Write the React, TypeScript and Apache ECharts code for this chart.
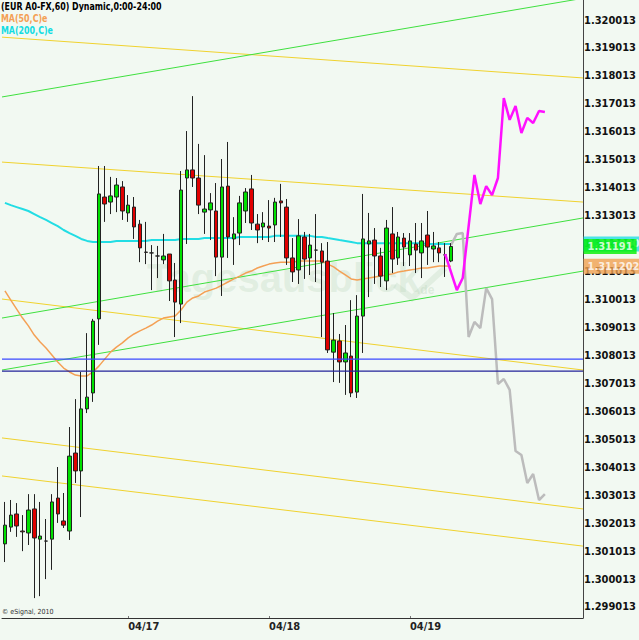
import React, { useEffect, useRef } from "react";
import * as echarts from "echarts";

const FONT = "'Liberation Sans Narrow', 'Arial Narrow', 'DejaVu Sans Condensed', 'Liberation Sans', Arial, sans-serif";

// ---- categories (hourly slots, first slot 04/16 03:00) ----
const dayNames = ["04/16", "04/17", "04/18", "04/19", "04/20"];
const firstHour = 3;
const slotCount = 99;
const categories = Array.from({ length: slotCount }, (_, i) => {
  const h = firstHour + i;
  return `${dayNames[Math.floor(h / 24)]} ${String(h % 24).padStart(2, "0")}:00`;
});
const dayLabels = ["04/17", "04/18", "04/19"];

// ---- y tick labels ----
const priceTicks = [
  1.299013, 1.300013, 1.301013, 1.302013, 1.303013, 1.304013, 1.305013, 1.306013,
  1.307013, 1.308013, 1.309013, 1.310013, 1.311013, 1.312013, 1.313013, 1.314013,
  1.315013, 1.316013, 1.317013, 1.318013, 1.319013, 1.320013,
];
const priceMin = 1.298618;
const priceMax = 1.320729;

// ---- candles: [open, close, low, high] ----
const candles = [
  [1.30127, 1.30194, 1.30062, 1.30277],
  [1.30187, 1.3023, 1.3017, 1.30284],
  [1.30234, 1.30191, 1.30152, 1.30273],
  [1.30173, 1.3017, 1.30101, 1.3023],
  [1.30166, 1.30248, 1.30123, 1.30305],
  [1.30252, 1.30148, 1.29933, 1.30305],
  [1.30144, 1.30155, 1.2994, 1.30277],
  [1.30137, 1.30137, 1.30001, 1.30216],
  [1.30144, 1.30277, 1.30034, 1.30305],
  [1.30291, 1.30234, 1.30202, 1.30402],
  [1.30209, 1.30194, 1.30184, 1.30309],
  [1.30173, 1.30441, 1.30141, 1.30545],
  [1.30452, 1.30388, 1.30345, 1.30645],
  [1.30388, 1.3061, 1.30223, 1.30742],
  [1.3061, 1.30652, 1.30595, 1.30881],
  [1.30667, 1.30924, 1.30635, 1.30932],
  [1.30932, 1.31379, 1.30839, 1.31479],
  [1.31368, 1.31343, 1.31279, 1.31479],
  [1.3135, 1.31372, 1.31307, 1.3144],
  [1.31368, 1.31411, 1.31314, 1.31436],
  [1.31404, 1.31318, 1.31286, 1.31425],
  [1.31311, 1.31339, 1.31279, 1.31375],
  [1.31332, 1.31261, 1.31218, 1.31368],
  [1.31271, 1.31186, 1.31135, 1.31286],
  [1.31171, 1.3117, 1.31128, 1.31279],
  [1.31168, 1.31168, 1.31035, 1.31196],
  [1.31157, 1.31157, 1.31078, 1.31193],
  [1.31143, 1.31157, 1.31128, 1.31236],
  [1.31164, 1.31068, 1.30996, 1.31164],
  [1.31071, 1.30992, 1.30867, 1.31132],
  [1.30985, 1.31393, 1.30917, 1.31461],
  [1.31436, 1.31465, 1.312, 1.31604],
  [1.31465, 1.31436, 1.31404, 1.31729],
  [1.31436, 1.31339, 1.31307, 1.31558],
  [1.31314, 1.31325, 1.31236, 1.31518],
  [1.31322, 1.31347, 1.31214, 1.31382],
  [1.31318, 1.31153, 1.31085, 1.31418],
  [1.31153, 1.31404, 1.31014, 1.31504],
  [1.31407, 1.31225, 1.3115, 1.31565],
  [1.31218, 1.31236, 1.31125, 1.31296],
  [1.31239, 1.31347, 1.31196, 1.31372],
  [1.31318, 1.31386, 1.31275, 1.314],
  [1.31397, 1.31275, 1.3125, 1.31447],
  [1.31271, 1.3125, 1.31203, 1.31307],
  [1.31261, 1.31275, 1.31214, 1.31314],
  [1.31264, 1.31257, 1.31207, 1.31357],
  [1.31268, 1.3135, 1.31207, 1.31365],
  [1.31354, 1.31347, 1.31225, 1.31415],
  [1.31332, 1.3115, 1.31125, 1.31361],
  [1.3115, 1.311, 1.31064, 1.31221],
  [1.31107, 1.31229, 1.31057, 1.31289],
  [1.31225, 1.31146, 1.31075, 1.31243],
  [1.3115, 1.31196, 1.31089, 1.31236],
  [1.31178, 1.31178, 1.31064, 1.31307],
  [1.31175, 1.31135, 1.30867, 1.31203],
  [1.31139, 1.30821, 1.3081, 1.31207],
  [1.30813, 1.30856, 1.30706, 1.30953],
  [1.30853, 1.30778, 1.30703, 1.30878],
  [1.30778, 1.3081, 1.3066, 1.3091],
  [1.30799, 1.30667, 1.30652, 1.30999],
  [1.3067, 1.30942, 1.30649, 1.31017],
  [1.30942, 1.31218, 1.3081, 1.31379],
  [1.312, 1.31211, 1.3101, 1.31311],
  [1.31214, 1.31157, 1.31057, 1.31257],
  [1.31157, 1.31085, 1.31046, 1.31186],
  [1.31068, 1.31257, 1.31035, 1.31286],
  [1.31236, 1.31146, 1.31096, 1.31332],
  [1.3115, 1.31225, 1.31125, 1.31243],
  [1.31221, 1.31189, 1.31121, 1.31239],
  [1.31161, 1.31211, 1.31121, 1.31239],
  [1.312, 1.31178, 1.31096, 1.31275],
  [1.31168, 1.31211, 1.31078, 1.31275],
  [1.31232, 1.31189, 1.31125, 1.31318],
  [1.31182, 1.31193, 1.31135, 1.31243],
  [1.31186, 1.31168, 1.31135, 1.31207],
  [1.31161, 1.31161, 1.31082, 1.31203],
  [1.31139, 1.31191, 1.31135, 1.31203],
];

// ---- moving averages ----
const ma50 = [
  1.31032, 1.30999, 1.30967, 1.30935, 1.30907, 1.30874, 1.30849, 1.30828, 1.30803, 1.30778,
  1.30756, 1.30742, 1.30731, 1.30728, 1.30728, 1.30742, 1.30763, 1.30788, 1.30813, 1.30831,
  1.30846, 1.30864, 1.30878, 1.30889, 1.30899, 1.3091, 1.30924, 1.30935, 1.30939, 1.30942,
  1.30964, 1.30992, 1.31007, 1.31014, 1.31028, 1.31035, 1.31042, 1.31053, 1.31064, 1.31075,
  1.31085, 1.31096, 1.31103, 1.31114, 1.31121, 1.31128, 1.31132, 1.31135, 1.31135, 1.31135,
  1.31139, 1.31139, 1.31139, 1.31139, 1.31139, 1.31128, 1.31118, 1.31103, 1.31089, 1.31075,
  1.31071, 1.31075, 1.31078, 1.31082, 1.31085, 1.31089, 1.31093, 1.311, 1.31103, 1.31107,
  1.3111, 1.31114, 1.31114, 1.31118, 1.31121, 1.31121, 1.311202,
];
const ma200 = [
  1.31347, 1.31339, 1.31332, 1.31325, 1.31318, 1.31307, 1.31296, 1.31286, 1.31275, 1.31264,
  1.3125, 1.31239, 1.31229, 1.31218, 1.31211, 1.31207, 1.31207, 1.31207, 1.31207, 1.31211,
  1.31211, 1.31211, 1.31211, 1.31211, 1.31211, 1.31214, 1.31214, 1.31214, 1.31214, 1.31214,
  1.31218, 1.31218, 1.31218, 1.31218, 1.31221, 1.31221, 1.31221, 1.31221, 1.31221, 1.31221,
  1.31225, 1.31225, 1.31225, 1.31225, 1.31225, 1.31225, 1.31229, 1.31229, 1.31229, 1.31229,
  1.31229, 1.31229, 1.31229, 1.31225, 1.31225, 1.31221, 1.31218, 1.31214, 1.31211, 1.31207,
  1.31203, 1.31203, 1.31203, 1.31203, 1.31203, 1.31203, 1.31203, 1.31203, 1.31203, 1.31203,
  1.31203, 1.31203, 1.312, 1.312, 1.312, 1.312, 1.312,
];

// ---- projections: [slot index, price] ----
const magentaPath = [
  [75, 1.31164], [77, 1.31035], [78, 1.31078], [80, 1.31447], [81, 1.31343], [82, 1.31407],
  [83, 1.31375], [84, 1.31436], [85, 1.31722], [86, 1.31644], [87, 1.31694], [88, 1.31597],
  [89, 1.31651], [90, 1.31633], [91, 1.31676], [92, 1.31672],
];
const grayPath = [
  [76, 1.31196], [77, 1.31236], [78, 1.31239], [79, 1.30867], [80, 1.30921], [81, 1.30899],
  [82, 1.31042], [83, 1.31003], [84, 1.30699], [85, 1.30717], [86, 1.30678], [87, 1.30459],
  [88, 1.30445], [89, 1.30345], [90, 1.30377], [91, 1.30284], [92, 1.30305],
];

// ---- trend lines: [price at left edge, price at right edge] ----
const lineEdges = [-0.5, 98.5];
const greenLines = [
  [1.31726, 1.32079],
  [1.30935, 1.31293],
  [1.30749, 1.31103],
];
const yellowLines = [
  [1.3194, 1.31794],
  [1.31493, 1.3135],
  [1.31003, 1.30749],
  [1.30506, 1.30252],
  [1.3037, 1.30119],
];
const levelLines = [1.30788, 1.30745];
const levelColors = ["#3a48ff", "#23239a"];

const lastClose = candles[candles.length - 1][1];
const lastMa50 = ma50[ma50.length - 1];
const lastMa200 = ma200[ma200.length - 1];

function trendSeries(pairs: number[][], color: string | string[], width = 1, z = 1) {
  return pairs.map((p, i) => ({
    type: "line",
    xAxisIndex: 1,
    yAxisIndex: 0,
    data: [
      [lineEdges[0], p[0]],
      [lineEdges[1], p[1]],
    ],
    symbol: "none",
    silent: true,
    lineStyle: { color: Array.isArray(color) ? color[i] : color, width },
    z,
  }));
}

function valueBox(value: number, bg: string, digits: number, z: number) {
  return {
    type: "scatter",
    xAxisIndex: 1,
    yAxisIndex: 0,
    data: [[lineEdges[1], value]],
    symbol: "rect",
    symbolSize: 1,
    clip: false,
    silent: true,
    itemStyle: { color: "rgba(0,0,0,0)" },
    z,
    label: {
      show: true,
      position: "right",
      distance: 0,
      formatter: () => value.toFixed(digits),
      backgroundColor: bg,
      color: "#ffffff",
      fontFamily: FONT,
      fontWeight: "bold",
      fontSize: 11,
      lineHeight: 11,
      padding: [2, 4, 2, 4],
    },
  };
}

export default function App() {
  const ref = useRef<HTMLDivElement>(null);

  useEffect(() => {
    if (!ref.current) return;
    const chart = echarts.init(ref.current, undefined, { renderer: "svg" });
    const isDayStart = (index: number) => {
      const c = categories[index];
      return c.endsWith(" 00:00") && dayLabels.includes(c.slice(0, 5));
    };

    const option: any = {
      animation: false,
      backgroundColor: "#f2f9f2",
      grid: { left: 2, right: 42, top: 0, bottom: 22, containLabel: false },
      xAxis: [
        {
          type: "category",
          data: categories,
          boundaryGap: true,
          axisLine: { show: true, onZero: false, lineStyle: { color: "#333", width: 1 } },
          axisTick: { show: true, alignWithLabel: true, interval: (i: number) => isDayStart(i), inside: true, length: 2, lineStyle: { color: "#777" } },
          axisLabel: {
            interval: (i: number) => isDayStart(i),
            formatter: (v: string) => v.slice(0, 5),
            align: "left",
            margin: 3,
            fontFamily: FONT,
            fontWeight: "bold",
            fontSize: 11,
            color: "#222",
          },
          splitLine: { show: false },
        },
        { type: "value", min: lineEdges[0], max: lineEdges[1], show: false, axisLine: { onZero: false } },
      ],
      yAxis: {
        type: "value",
        position: "right",
        min: priceMin,
        max: priceMax,
        splitLine: { show: false },
        axisLine: { show: true, onZero: false, lineStyle: { color: "#444", width: 1 } },
        axisTick: { show: false },
        axisLabel: {
          customValues: priceTicks,
          formatter: (v: number) => v.toFixed(6),
          margin: 1,
          fontFamily: FONT,
          fontWeight: "bold",
          fontSize: 11,
          color: "#111",
        },
      },
      graphic: [
        { type: "text", x: 147, y: 278, z: 0, silent: true, style: { text: "Tagesausblick", fill: "rgba(190,215,190,0.32)", font: "bold 40px 'Liberation Sans', Arial, sans-serif", verticalAlign: "middle" } },
        { type: "text", x: 417, y: 290, z: 0, silent: true, style: { text: ".de", fill: "rgba(190,215,190,0.4)", font: "bold 12px 'Liberation Sans', Arial, sans-serif", verticalAlign: "middle" } },
        { type: "polyline", z: 0, silent: true, shape: { points: [[395, 285], [412, 298], [445, 268]] }, style: { stroke: "rgba(190,215,190,0.32)", lineWidth: 6, fill: "none" } },
        { type: "text", x: 1, y: 6, scaleX: 0.8, z: 10, silent: true, style: { text: "(EUR A0-FX,60) Dynamic,0:00-24:00", fill: "#000", font: `bold 11px ${FONT}`, verticalAlign: "middle" } },
        { type: "text", x: 1, y: 18, scaleX: 0.8, z: 10, silent: true, style: { text: "MA(50,C)e", fill: "#f4a055", font: `bold 11px ${FONT}`, verticalAlign: "middle" } },
        { type: "text", x: 1, y: 30, scaleX: 0.8, z: 10, silent: true, style: { text: "MA(200,C)e", fill: "#12dce2", font: `bold 11px ${FONT}`, verticalAlign: "middle" } },
        { type: "text", x: 2, y: 612, z: 10, silent: true, style: { text: "© eSignal, 2010", fill: "#333", font: `7px ${FONT}`, verticalAlign: "middle" } },
      ],
      series: [
        ...trendSeries(yellowLines, "#f0d22e"),
        ...trendSeries(greenLines, "#3fe03f"),
        {
          type: "line",
          name: "MA(200,C)",
          data: ma200,
          symbol: "none",
          silent: true,
          lineStyle: { color: "#22dde4", width: 2 },
          z: 2,
        },
        {
          type: "line",
          name: "MA(50,C)",
          data: ma50,
          symbol: "none",
          silent: true,
          lineStyle: { color: "#f4a055", width: 1.5 },
          z: 2,
        },
        {
          type: "candlestick",
          name: "EUR A0-FX",
          data: candles,
          barWidth: 4,
          z: 3,
          itemStyle: {
            color: "#00e000",
            color0: "#e00000",
            borderColor: "#222",
            borderColor0: "#222",
            borderColorDoji: "#222",
            borderWidth: 1,
          },
        },
        ...trendSeries(levelLines.map((v) => [v, v]), levelColors, 1.2, 4),
        {
          type: "line",
          name: "projection 1",
          data: grayPath,
          symbol: "none",
          silent: true,
          lineStyle: { color: "#bcbcbc", width: 2.5 },
          z: 3,
        },
        {
          type: "line",
          name: "projection 2",
          data: magentaPath,
          symbol: "none",
          silent: true,
          lineStyle: { color: "#ff10ff", width: 2.5 },
          z: 5,
        },
        valueBox(lastMa200, "#22dde4", 6, 6),
        valueBox(lastMa50, "#f0a050", 6, 7),
        valueBox(lastClose, "#00f000", 5, 8),
      ],
    };

    chart.setOption(option);
    return () => chart.dispose();
  }, []);

  return <div ref={ref} style={{ position: "fixed", left: 0, top: 0, width: 639, height: 640 }} />;
}
